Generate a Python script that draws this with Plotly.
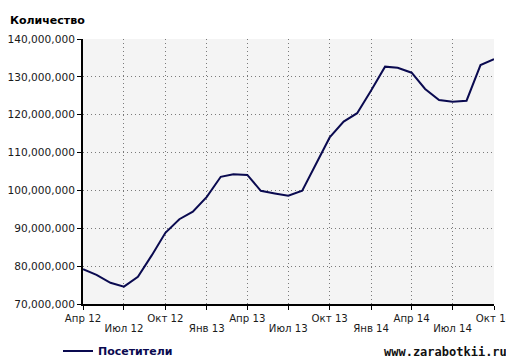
import plotly.graph_objects as go

months = ["2012-04-01","2012-05-01","2012-06-01","2012-07-01","2012-08-01","2012-09-01",
          "2012-10-01","2012-11-01","2012-12-01","2013-01-01","2013-02-01","2013-03-01",
          "2013-04-01","2013-05-01","2013-06-01","2013-07-01","2013-08-01","2013-09-01",
          "2013-10-01","2013-11-01","2013-12-01","2014-01-01","2014-02-01","2014-03-01",
          "2014-04-01","2014-05-01","2014-06-01","2014-07-01","2014-08-01","2014-09-01",
          "2014-10-01"]
visitors = [79.2, 77.7, 75.6, 74.6, 77.2, 82.9, 88.8, 92.4, 94.4, 98.3, 103.6, 104.3,
            104.1, 99.9, 99.2, 98.6, 99.9, 107.2, 114.0, 118.2, 120.4, 126.4, 132.7, 132.4,
            131.1, 126.8, 123.9, 123.4, 123.7, 133.1, 134.7]
visitors = [v * 1e6 for v in visitors]

tick_dates = ["2012-04-01","2012-07-01","2012-10-01","2013-01-01","2013-04-01","2013-07-01",
              "2013-10-01","2014-01-01","2014-04-01","2014-07-01","2014-10-01"]
tick_labels = ["Апр 12","Июл 12","Окт 12","Янв 13","Апр 13","Июл 13",
               "Окт 13","Янв 14","Апр 14","Июл 14","Окт 14"]
upper_text = [t if i % 2 == 0 else "" for i, t in enumerate(tick_labels)]
lower_vals = [d for i, d in enumerate(tick_dates) if i % 2 == 1]
lower_text = [t for i, t in enumerate(tick_labels) if i % 2 == 1]

y_ticks = [70e6, 80e6, 90e6, 100e6, 110e6, 120e6, 130e6, 140e6]

# the page body has an 8px margin: figure coords = page coords - 8
OFF = 8
W, H = 514, 380                      # figure may extend past the window edge
L, T = 83 - OFF, 39 - OFF
R, B = W - (494 - OFF), H - (304 - OFF)
pw, ph = W - L - R, H - T - B

def px_x(x):
    return (x - OFF - L) / pw

def px_y(y):
    return (H - B - (y - OFF)) / ph

fig = go.Figure()
fig.add_trace(go.Scatter(
    x=months, y=visitors, mode="lines", name="<b>Посетители</b>",
    line=dict(color="#0a0a50", width=2),
))
fig.add_trace(go.Scatter(
    x=[months[0]], y=[visitors[0]], xaxis="x2", mode="lines",
    line=dict(width=0), showlegend=False, hoverinfo="skip",
))

fnt = "'DejaVu Sans', 'Liberation Sans', sans-serif"
grid = dict(showgrid=True, gridcolor="#7a7a7a", griddash="1px,3px", gridwidth=1)
axis_common = dict(
    showline=True, linecolor="black", linewidth=2,
    ticks="outside", ticklen=4, tickcolor="black", tickwidth=1,
    zeroline=False, automargin=False, ticklabeloverflow="allow", **grid,
)
fig.update_layout(
    width=W, height=H,
    margin=dict(l=L, r=R, t=T, b=B),
    paper_bgcolor="white", plot_bgcolor="#f4f4f4",
    font=dict(family=fnt, size=11, color="#1a1a1a"),
    showlegend=True,
    legend=dict(x=px_x(58), y=px_y(351), xanchor="left", yanchor="middle",
                font=dict(color="#0a0a50", size=11), bgcolor="rgba(0,0,0,0)"),
    xaxis=dict(
        type="date", range=["2012-04-01", "2014-10-01"],
        tickvals=tick_dates, ticktext=upper_text, tickangle=0,
        tickfont=dict(size=10.2),
        **axis_common,
    ),
    xaxis2=dict(
        type="date", overlaying="x", matches="x", side="bottom",
        tickvals=lower_vals, ticktext=lower_text, tickangle=0,
        tickfont=dict(size=10.2), ticklabeloverflow="allow",
        showgrid=False, showline=False, zeroline=False,
        ticks="outside", ticklen=15, tickcolor="rgba(0,0,0,0)",
        automargin=False,
    ),
    yaxis=dict(
        range=[70e6, 140e6], tickvals=y_ticks, tickformat=",d",
        tickfont=dict(size=10.6),
        **axis_common,
    ),
    annotations=[
        dict(text="<b>Количество</b>", x=px_x(8), y=px_y(20),
             xref="paper", yref="paper", xanchor="left", yanchor="middle",
             showarrow=False, font=dict(size=11, color="black")),
        dict(text="<b>www.zarabotkii.ru</b>", x=px_x(509), y=px_y(352),
             xref="paper", yref="paper", xanchor="right", yanchor="middle",
             showarrow=False,
             font=dict(size=12, color="#111111", family="'DejaVu Sans Mono', monospace")),
    ],
)

fig.write_html("out.html")
